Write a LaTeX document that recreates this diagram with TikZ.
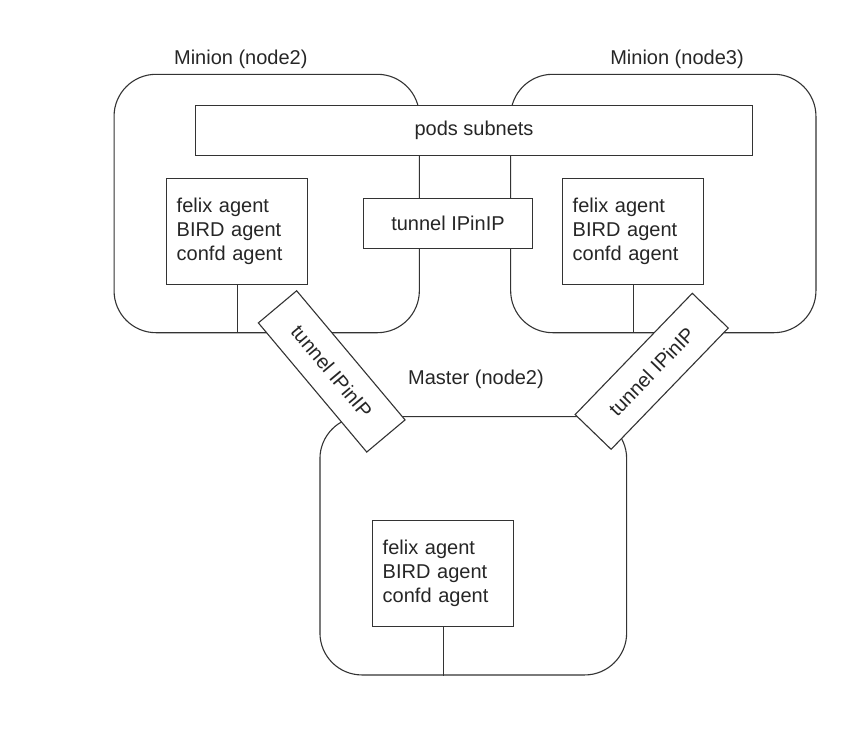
\documentclass[tikz,border=0pt]{standalone}
\usepackage{fontspec}
\setmainfont{Liberation Sans}
\newcommand{\agenttext}{\raisebox{-3pt}{\begin{tabular}{@{}l@{}}felix agent\\BIRD agent\\confd agent\end{tabular}}}
\begin{document}
\begin{tikzpicture}[x=1pt,y=-1pt,
  every node/.style={font=\fontsize{20}{24}\selectfont, text=black!85},
  line/.style={draw=black!80, line width=1.1pt},
  hostbox/.style={line, rounded corners=42pt, minimum width=305.3pt, minimum height=258.4pt, inner sep=0pt},
  plainbox/.style={line, fill=white, inner sep=0pt},
  agentbox/.style={line, fill=white, text width=121pt, inner xsep=10pt, inner ysep=0pt, minimum height=106pt, align=left},
  tunnelbox/.style={line, fill=white, minimum width=168.6pt, minimum height=50pt, inner sep=0pt},
  title/.style={anchor=base, inner sep=0pt}]
\useasboundingbox (0,0) rectangle (856,734);
% hosts
\node[hostbox] (m2) at (266.7,203.5) {};
\node[hostbox] (m3) at (663.3,203.5) {};
\node[hostbox, minimum width=306.7pt, minimum height=258.3pt] (ms) at (473.3,545.8) {};
% titles
\node[title] (t2) at (240.8,64) {Minion (node2)};
\node[title] (t3) at (677,64) {Minion (node3)};
\node[title] (tm) at (476,384.3) {Master (node2)};
% pods subnets
\node[plainbox, minimum width=556.6pt, minimum height=50pt] (pods) at (474,130.3) {\raisebox{-1.5pt}{pods subnets}};
% agents
\node[agentbox] (a2) at (237.2,231.3) {\agenttext};
\node[agentbox] (a3) at (633.2,231.3) {\agenttext};
\node[agentbox] (am) at (443.2,573.7) {\agenttext};
\draw[line] (a2.south) -- (a2.south |- m2.south);
\draw[line] (a3.south) -- (a3.south |- m3.south);
\draw[line] (am.south) -- (am.south |- ms.south);
% tunnels
\node[tunnelbox] (tc) at (448,223.3) {tunnel IPinIP};
\node[tunnelbox, rotate=-50] (tl) at (331.7,371.4) {tunnel IPinIP};
\node[tunnelbox, rotate=46] (tr) at (651.7,371.3) {tunnel IPinIP};
\end{tikzpicture}
\end{document}
